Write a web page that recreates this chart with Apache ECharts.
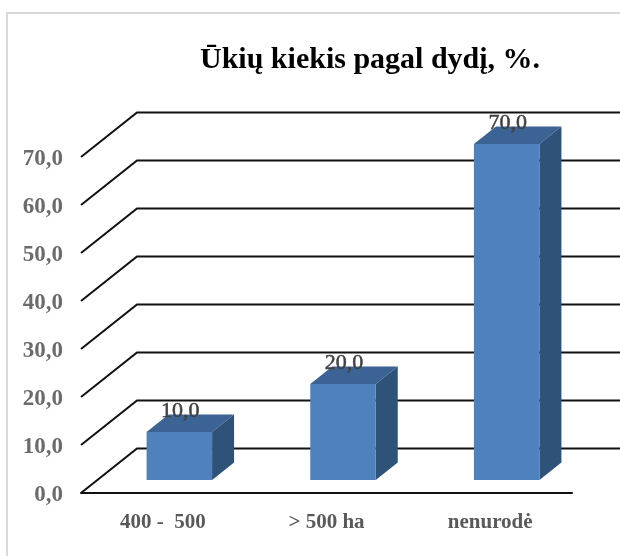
<!DOCTYPE html>
<html>
<head>
<meta charset="utf-8">
<title>Ūkių kiekis pagal dydį</title>
<script src="https://cdn.jsdelivr.net/npm/echarts@6/dist/echarts.min.js"></script>
<style>
html, body { margin: 0; padding: 0; background: #fff; }
#chart { width: 620px; height: 556px; }
</style>
</head>
<body>
<div id="chart"></div>
<script>
var titleText = 'Ūkių kiekis pagal dydį, %.';
var categories = ['400 -  500', '> 500 ha', 'nenurodė'];
var values = [10, 20, 70];
var yTicks = [0, 10, 20, 30, 40, 50, 60, 70];

// pseudo 3D: wall depth and bar placement, px
var WALL_DX = 56, WALL_DY = 44.5;
var FLOOR_DX = 16.5, FLOOR_DY = 13;
var BAR_W = 65.5, BAR_DX = 22, BAR_DY = 17.5;
var SERIF = '"Liberation Serif", "Times New Roman", serif';

function fmt(v) {
    return v.toFixed(1).replace('.', ',');
}

// diagonal from the front tick and then the line along the back wall
function renderWall(params, api) {
    var rect = params.coordSys;
    var y = api.coord([0, api.value(0)])[1];
    var x0 = rect.x;
    return {
        type: 'polyline',
        shape: { points: [[x0, y], [x0 + WALL_DX, y - WALL_DY], [x0 + rect.width + WALL_DX, y - WALL_DY]] },
        style: { stroke: '#111', lineWidth: 2, fill: null }
    };
}

function renderBar(params, api) {
    var top = api.coord([api.value(0), api.value(1)]);
    var base = api.coord([api.value(0), 0]);
    var l = top[0] + FLOOR_DX - BAR_W / 2, r = l + BAR_W;
    var t = top[1] - FLOOR_DY, b = base[1] - FLOOR_DY;
    return {
        type: 'group',
        children: [
            { type: 'polygon', shape: { points: [[l, t], [r, t], [r + BAR_DX, t - BAR_DY], [l + BAR_DX, t - BAR_DY]] }, style: { fill: '#3b6494' } },
            { type: 'polygon', shape: { points: [[r, t], [r + BAR_DX, t - BAR_DY], [r + BAR_DX, b - BAR_DY], [r, b]] }, style: { fill: '#2f5279' } },
            { type: 'rect', shape: { x: l, y: t, width: BAR_W, height: b - t }, style: { fill: '#4f81bd' } },
            {
                type: 'text',
                style: {
                    text: fmt(api.value(1)), x: (l + r) / 2 + 1, y: t - 21,
                    textAlign: 'center', textVerticalAlign: 'middle',
                    font: '22px ' + SERIF, fill: '#404040',
                    stroke: '#404040', lineWidth: 0.5
                }
            }
        ]
    };
}

var chart = echarts.init(document.getElementById('chart'), null, { renderer: 'canvas' });
chart.setOption({
    animation: false,
    backgroundColor: '#fff',
    title: {
        text: titleText,
        left: 195, top: 40,
        textStyle: { fontFamily: SERIF, fontSize: 30, fontWeight: 'bold', color: '#000' }
    },
    graphic: [{
        type: 'rect', silent: true, z: -1,
        shape: { x: 7, y: 13, width: 700, height: 700 },
        style: { fill: null, stroke: '#d9d9d9', lineWidth: 2 }
    }],
    grid: { left: 81, right: 48, top: 157, bottom: 63 },
    xAxis: {
        type: 'category',
        data: categories,
        axisLine: { lineStyle: { color: '#111', width: 2 } },
        axisTick: { show: false },
        axisLabel: { margin: 19, fontFamily: SERIF, fontSize: 21, fontWeight: 'bold', color: '#595959' }
    },
    yAxis: {
        type: 'value',
        min: 0, max: 70, interval: 10,
        axisLine: { show: false },
        axisTick: { show: false },
        splitLine: { show: false },
        axisLabel: {
            margin: 18,
            formatter: function (v) { return '{t|' + fmt(v) + '}'; },
            // pushed down a little, the labels sit just under the tick in the original
            rich: {
                t: { fontFamily: SERIF, fontSize: 23, fontWeight: 'bold', color: '#6b6b6b', padding: [4, 0, 0, 0] }
            }
        }
    },
    series: [
        {
            type: 'custom', name: 'wall', coordinateSystem: 'cartesian2d', z: 1, silent: true,
            encode: { y: 0 },
            data: yTicks.map(function (t) { return [t]; }),
            renderItem: renderWall
        },
        {
            type: 'custom', name: 'Ūkių kiekis', coordinateSystem: 'cartesian2d', z: 2, silent: true,
            encode: { x: 0, y: 1 },
            data: values.map(function (v, i) { return [i, v]; }),
            renderItem: renderBar
        }
    ]
});
</script>
</body>
</html>
